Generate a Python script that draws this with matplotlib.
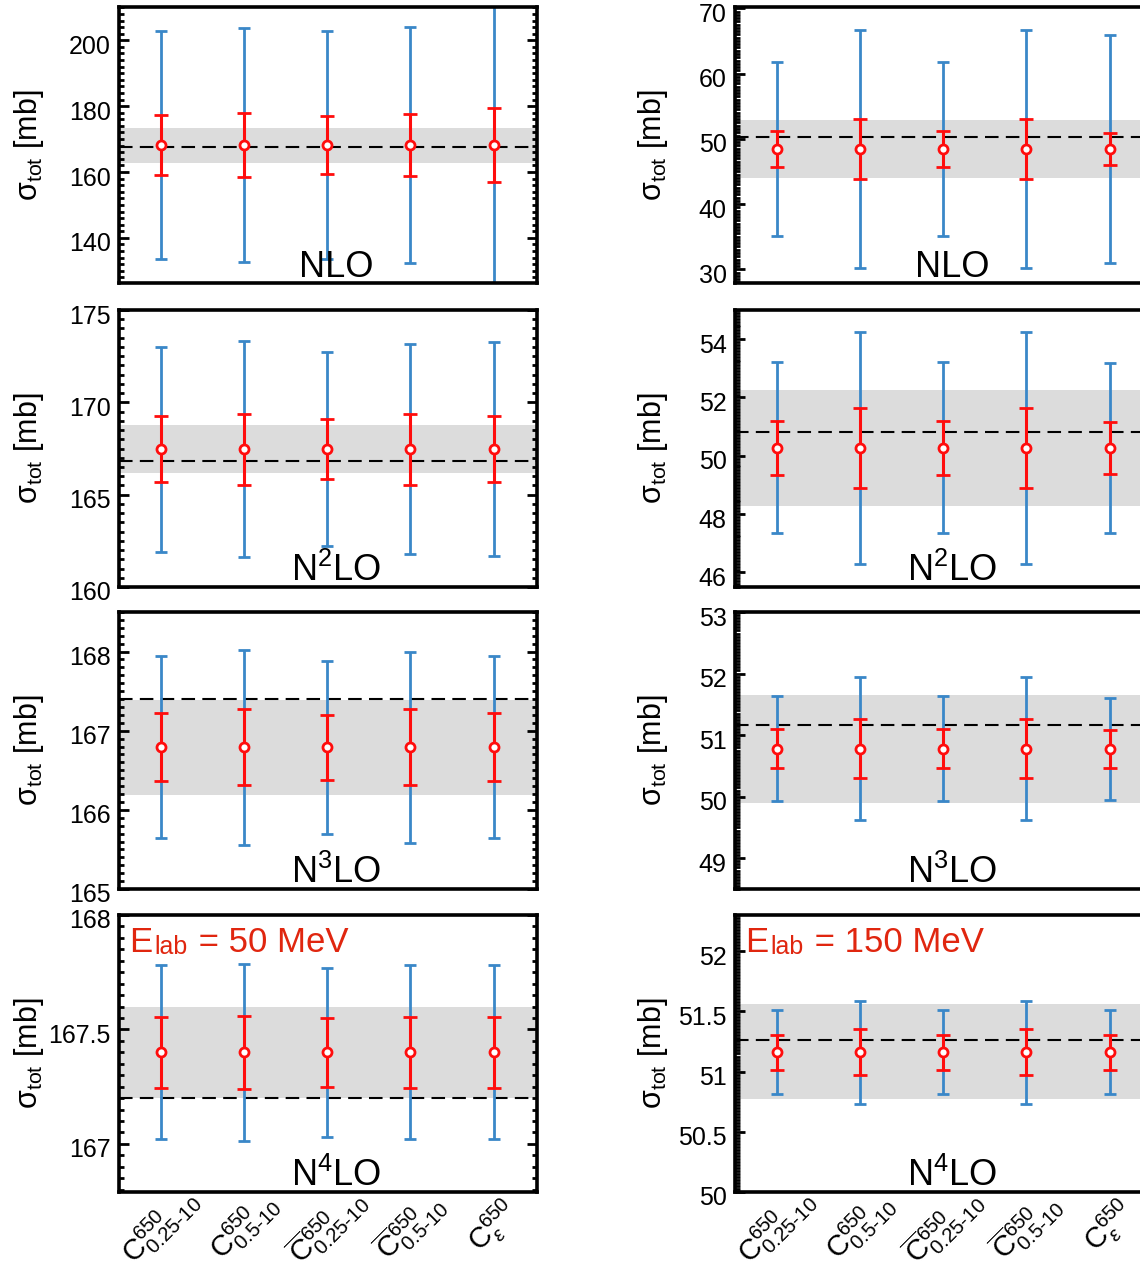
import matplotlib
matplotlib.use("Agg")
import matplotlib.pyplot as plt
from matplotlib.ticker import MultipleLocator, AutoMinorLocator, FormatStrFormatter
from matplotlib.transforms import ScaledTranslation

plt.rcParams['font.family'] = ['Liberation Sans', 'DejaVu Sans']
plt.rcParams['mathtext.fontset'] = 'custom'
plt.rcParams['mathtext.rm'] = 'Liberation Sans'
plt.rcParams['mathtext.it'] = 'Liberation Sans:italic'
plt.rcParams['mathtext.bf'] = 'Liberation Sans:bold'
plt.rcParams['mathtext.sf'] = 'Liberation Sans'

# Regulator choices along the x axis
x_labels = [
    r'$\mathrm{C}^{650}_{0.25\text{-}10}$',
    r'$\mathrm{C}^{650}_{0.5\text{-}10}$',
    r'$\overline{\mathrm{C}}^{650}_{0.25\text{-}10}$',
    r'$\overline{\mathrm{C}}^{650}_{0.5\text{-}10}$',
    r'$\mathrm{C}^{650}_{\varepsilon}$',
]
x_pos = [1, 2, 3, 4, 5]

orders = ['NLO', r'N$^{2}$LO', r'N$^{3}$LO', r'N$^{4}$LO']

# ---- E_lab = 50 MeV ----
e50_center = [168.2, 167.47, 166.79, 167.40]
e50_err68 = [
    [9.2, 9.65, 8.8, 9.4, 11.2],
    [1.77, 1.92, 1.64, 1.92, 1.77],
    [0.43, 0.48, 0.41, 0.48, 0.43],
    [0.155, 0.16, 0.15, 0.155, 0.155],
]
e50_err95 = [
    [34.7, 35.4, 34.5, 35.9, 45.0],
    [5.55, 5.85, 5.24, 5.70, 5.80],
    [1.15, 1.23, 1.09, 1.21, 1.15],
    [0.38, 0.386, 0.37, 0.38, 0.38],
]
e50_band = [(162.7, 173.3), (166.16, 168.76), (166.19, 167.39), (167.2, 167.6)]
e50_ref = [167.7, 166.82, 167.4, 167.2]
e50_ylim = [(126.3, 210.1), (160.0, 175.0), (165.0, 168.5), (166.79, 168.0)]
e50_major = [20, 5, 1, 0.5]

# ---- E_lab = 150 MeV ----
e150_center = [48.45, 50.27, 50.78, 51.16]
e150_err68 = [
    [2.8, 4.57, 2.8, 4.57, 2.45],
    [0.92, 1.37, 0.92, 1.37, 0.89],
    [0.32, 0.48, 0.32, 0.48, 0.31],
    [0.145, 0.19, 0.145, 0.19, 0.145],
]
e150_err95 = [
    [13.3, 18.2, 13.3, 18.2, 17.5],
    [2.93, 3.99, 2.93, 3.99, 2.91],
    [0.85, 1.16, 0.85, 1.16, 0.83],
    [0.35, 0.43, 0.35, 0.43, 0.35],
]
e150_band = [(44.05, 52.95), (48.28, 52.25), (49.89, 51.65), (50.77, 51.56)]
e150_ref = [50.25, 50.80, 51.16, 51.26]
e150_ylim = [(27.9, 70.2), (45.5, 55.0), (48.5, 53.0), (50.0, 52.3)]
e150_major = [10, 2, 1, 0.5]

W, H = 1140, 1271
fig = plt.figure(figsize=(W / 100, H / 100), dpi=100)

col_x = [119, 735]
ylabel_x = [-0.175, -0.155]
ax_w = 418
row_tb = [(7, 283), (310, 587), (612, 889), (915, 1192)]

blue = '#3a87c8'
red = '#ff0d0d'
title_red = '#e0260f'

columns = [
    (e50_center, e50_err68, e50_err95, e50_band, e50_ref, e50_ylim, e50_major, 10, '50 MeV'),
    (e150_center, e150_err68, e150_err95, e150_band, e150_ref, e150_ylim, e150_major, 20, '150 MeV'),
]

for ci, (cen, e68, e95, band, ref, ylims, major, nminor, elab) in enumerate(columns):
    for ri in range(4):
        top, bot = row_tb[ri]
        ax = fig.add_axes([col_x[ci] / W, 1 - bot / H, ax_w / W, (bot - top) / H])
        ax.axhspan(band[ri][0], band[ri][1], color='#dcdcdc', lw=0, zorder=0)
        ax.axhline(ref[ri], color='black', lw=1.5, dashes=(6.5, 3.5), zorder=1)
        yv = [cen[ri]] * len(x_pos)
        ax.errorbar(x_pos, yv, yerr=e95[ri], fmt='none', ecolor=blue,
                    elinewidth=2.0, capsize=4, capthick=2.0, zorder=2)
        ax.errorbar(x_pos, yv, yerr=e68[ri], fmt='o', color=red, ecolor=red,
                    elinewidth=2.2, capsize=5, capthick=2.2, ms=6.5,
                    mfc='white', mec=red, mew=2.0, zorder=3)
        ax.set_xlim(0.5, 5.52)
        ax.set_ylim(*ylims[ri])
        ax.yaxis.set_major_locator(MultipleLocator(major[ri]))
        ax.yaxis.set_minor_locator(AutoMinorLocator(nminor))
        ax.yaxis.set_major_formatter(FormatStrFormatter('%g'))
        ax.tick_params(axis='y', which='both', direction='in', left=True, right=True,
                       labelsize=18, width=2, pad=6)
        ax.tick_params(axis='y', which='major', length=7)
        ax.tick_params(axis='y', which='minor', length=3.5, width=2)
        ax.tick_params(axis='x', which='both', bottom=False, top=False, labelbottom=False)
        for s in ax.spines.values():
            s.set_linewidth(2.6)
        off = ScaledTranslation(0, -4 / 100, fig.dpi_scale_trans)
        for lbl in ax.get_yticklabels():
            lbl.set_transform(lbl.get_transform() + off)
        ax.set_ylabel(r'$\mathrm{σ_{tot}}$ [mb]', fontsize=22)
        ax.yaxis.set_label_coords(ylabel_x[ci], 0.5)
        ax.text(0.52, 0.022, orders[ri], transform=ax.transAxes, ha='center',
                va='baseline', fontsize=26)
        if ri == 3:
            t1 = ax.text(0.025, 0.866, 'E', transform=ax.transAxes,
                         ha='left', va='baseline', fontsize=25, color=title_red)
            t2 = ax.annotate('lab', xy=(1, 0), xycoords=t1, xytext=(1, 0),
                             textcoords='offset points', ha='left', va='bottom',
                             fontsize=18, color=title_red)
            ax.annotate(' = ' + elab, xy=(1, 0), xycoords=t2, xytext=(1, 0),
                        textcoords='offset points', ha='left', va='bottom',
                        fontsize=25, color=title_red)
            for xp, lab in zip(x_pos, x_labels):
                ax.text(xp, -0.125, lab, transform=ax.get_xaxis_transform(),
                        rotation=45, ha='center', va='center', fontsize=21,
                        clip_on=False)

fig.savefig('out.png', dpi=100)
